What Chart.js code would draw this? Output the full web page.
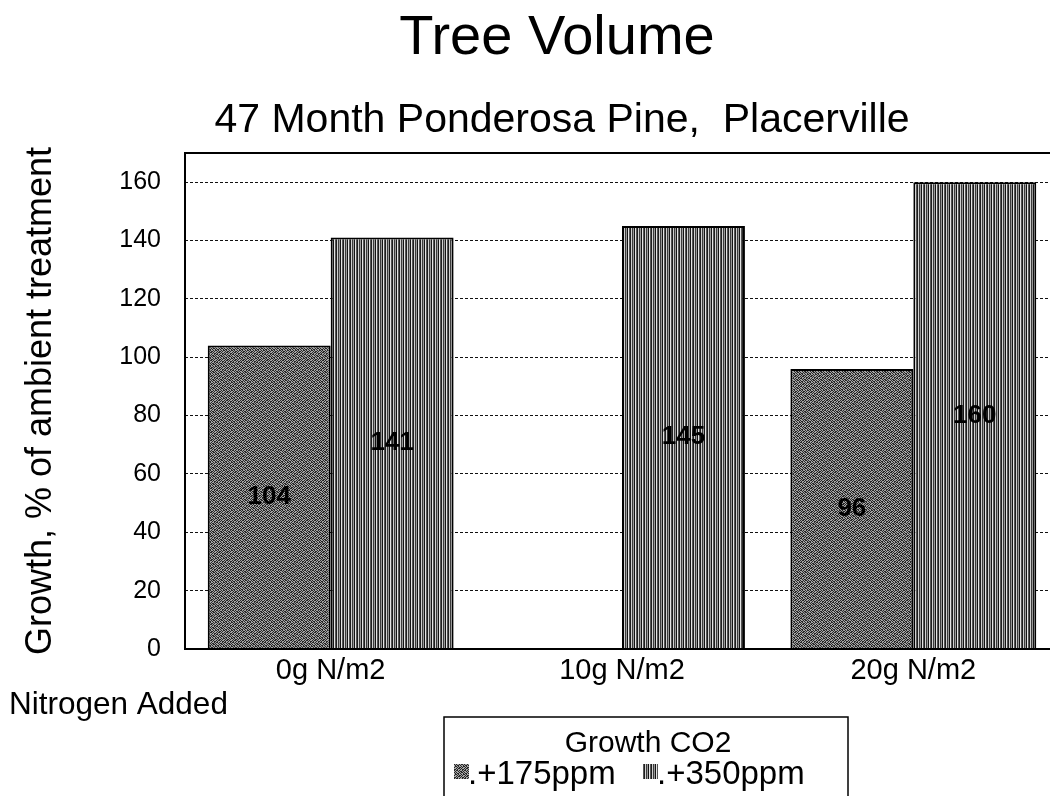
<!DOCTYPE html>
<html>
<head>
<meta charset="utf-8">
<title>Tree Volume</title>
<script src="https://cdn.jsdelivr.net/npm/chart.js@4/dist/chart.umd.min.js"></script>
<style>
  html, body { margin: 0; padding: 0; background: #fff; overflow: hidden; }
  #wrap { width: 1050px; height: 796px; overflow: hidden; }
  canvas { display: block; }
</style>
</head>
<body>
<div id="wrap"><canvas id="treeChart" width="1059" height="796"></canvas></div>
<script>
/* Tree volume bar chart — grouped bars, textured fills */

const categories = ['0g N/m2', '10g N/m2', '20g N/m2'];
const seriesNames = ['.+175ppm', '.+350ppm'];
const ppm175 = [104, null, 96];
const ppm350 = [141, 145, 160];
const yTicks = [0, 20, 40, 60, 80, 100, 120, 140, 160];

const FONT = "'Liberation Sans', Arial, Helvetica, sans-serif";
Chart.defaults.font.family = FONT;
Chart.defaults.color = '#000';

// stipple fill for +175ppm
function makeStipple() {
  const rows = [
    '10110100', '01001011', '11010010', '00101101',
    '10010110', '01101001', '10100101', '01011010',
  ];
  const c = document.createElement('canvas');
  c.width = 8; c.height = 8;
  const g = c.getContext('2d');
  rows.forEach((r, y) => {
    for (let x = 0; x < 8; x++) {
      g.fillStyle = r[x] === '1' ? '#262626' : '#a4a4a4';
      g.fillRect(x, y, 1, 1);
    }
  });
  return g.createPattern(c, 'repeat');
}

// vertical stripe fill for +350ppm
function makeStripes() {
  const cols = ['#1e1e1e', '#d0d0d0', '#3c3c3c', '#999999', '#141414', '#e4e4e4', '#555555'];
  const c = document.createElement('canvas');
  c.width = cols.length; c.height = 4;
  const g = c.getContext('2d');
  cols.forEach((col, x) => { g.fillStyle = col; g.fillRect(x, 0, 1, 4); });
  return g.createPattern(c, 'repeat');
}

const fill175 = makeStipple();
const fill350 = makeStripes();

// titles, frame, value labels, side caption and boxed legend
const decor = {
  id: 'decor',
  beforeDatasetsDraw(chart) {
    const ctx = chart.ctx;
    ctx.save();
    ctx.fillStyle = '#000';
    ctx.textAlign = 'center';
    ctx.textBaseline = 'alphabetic';
    ctx.font = `56px ${FONT}`;
    ctx.fillText('Tree Volume', 557, 54);
    ctx.font = `41px ${FONT}`;
    ctx.fillText('47 Month Ponderosa Pine,  Placerville', 562, 132);
    ctx.textAlign = 'left';
    ctx.font = `31.5px ${FONT}`;
    ctx.fillText('Nitrogen Added', 9, 714);
    ctx.restore();
  },
  afterDatasetsDraw(chart) {
    const ctx = chart.ctx;
    const a = chart.chartArea;
    ctx.save();
    ctx.strokeStyle = '#000';
    ctx.lineWidth = 2;
    ctx.beginPath();
    ctx.moveTo(a.right + 5, a.top);
    ctx.lineTo(a.left, a.top);
    ctx.lineTo(a.left, a.bottom);
    ctx.lineTo(a.right + 5, a.bottom);
    ctx.stroke();

    ctx.font = `bold 26px ${FONT}`;
    ctx.textAlign = 'center';
    ctx.textBaseline = 'middle';
    ctx.fillStyle = '#000';
    chart.data.datasets.forEach((ds, i) => {
      chart.getDatasetMeta(i).data.forEach((bar, j) => {
        if (ds.data[j] == null) return;
        ctx.fillText(String(ds.data[j]), bar.x, (bar.y + bar.base) / 2);
      });
    });

    // legend box
    ctx.lineWidth = 1.5;
    ctx.strokeRect(444, 717, 404, 80);
    ctx.font = `30px ${FONT}`;
    ctx.textBaseline = 'alphabetic';
    ctx.fillText('Growth CO2', 648, 752);
    const items = [{ x: 454, tx: 468 }, { x: 643, tx: 657 }];
    ctx.textAlign = 'left';
    ctx.font = `33px ${FONT}`;
    chart.data.datasets.forEach((ds, i) => {
      ctx.fillStyle = ds.backgroundColor;
      ctx.fillRect(items[i].x, 764, 15, 15);
      ctx.fillStyle = '#000';
      ctx.fillText(ds.label, items[i].tx, 784);
    });
    ctx.restore();
  },
};

new Chart(document.getElementById('treeChart'), {
  type: 'bar',
  data: {
    labels: categories,
    datasets: [
      { label: seriesNames[0], data: ppm175, backgroundColor: fill175, borderColor: '#000', borderWidth: 2 },
      { label: seriesNames[1], data: ppm350, backgroundColor: fill350, borderColor: '#000', borderWidth: 2 },
    ],
  },
  options: {
    responsive: false,
    animation: false,
    layout: { padding: { top: 153, left: 0, right: 0, bottom: 0 } },
    datasets: { bar: { categoryPercentage: 0.844, barPercentage: 1 } },
    plugins: {
      legend: { display: false },
      tooltip: { enabled: false },
    },
    scales: {
      x: {
        grid: { display: false, drawTicks: false },
        border: { display: false },
        ticks: { font: { size: 29 }, padding: 5, color: '#000', maxRotation: 0 },
        afterFit(scale) { scale.height = 147; },
      },
      y: {
        min: 0,
        max: 170,
        ticks: { stepSize: 20, font: { size: 25 }, padding: 24, color: '#000' },
        afterBuildTicks(scale) {
          scale.ticks = yTicks.map(v => ({ value: v }));
        },
        grid: { drawTicks: false, color: '#111', lineWidth: 1 },
        border: { display: false, dash: [3, 2] },
        title: {
          display: true,
          text: 'Growth, % of ambient treatment',
          font: { size: 36 },
          color: '#000',
          padding: { top: 19, bottom: 0 },
        },
        afterFit(scale) { scale.width = 185; },
      },
    },
  },
  plugins: [decor],
});
</script>
</body>
</html>
